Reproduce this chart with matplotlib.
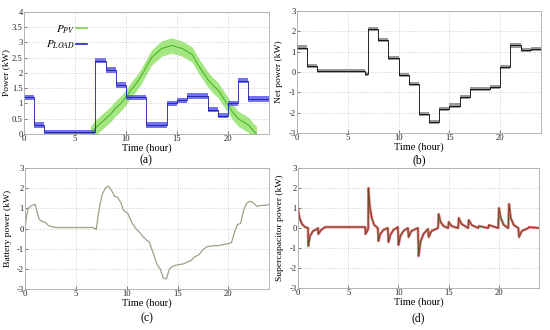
import numpy as np
import matplotlib
matplotlib.use("Agg")
import matplotlib.pyplot as plt

plt.rcParams['font.family'] = ['Liberation Serif', 'DejaVu Serif']
plt.rcParams['mathtext.fontset'] = 'stix'

# ---- data (hours, kW) ----
load_edges = [0, 1, 2, 7, 8, 9, 10, 12, 14, 15, 16, 18, 19, 20, 21, 22, 24]
load_levels = [1.2, 0.3, 0.05, 2.4, 2.1, 1.6, 1.2, 0.3, 1.0, 1.1, 1.25, 0.8, 0.6, 1.0, 1.75, 1.15]

pv_t = [6.5, 7, 7.5, 8, 8.5, 9, 9.5, 10, 10.5, 11, 11.5, 12, 12.5, 13, 13.5, 14, 14.5,
        15, 15.5, 16, 16.5, 17, 17.5, 18, 18.5, 19, 19.5, 20, 20.5, 21, 21.5, 22, 22.5, 22.8]
pv_p = [0.0, 0.2, 0.35, 0.5, 0.65, 0.85, 1.0, 1.2, 1.45, 1.65, 1.9, 2.2, 2.5, 2.65, 2.8, 2.85, 2.9,
        2.85, 2.8, 2.7, 2.6, 2.3, 2.05, 1.8, 1.6, 1.45, 1.2, 0.95, 0.7, 0.5, 0.4, 0.3, 0.1, 0.0]

net_edges = [0, 1, 2, 6.7, 7, 8, 9, 10, 11, 12, 13, 14, 15, 16, 17, 18, 19, 20, 21, 22, 23, 24]
net_levels = [1.2, 0.3, 0.05, -0.1, 2.1, 1.55, 0.7, -0.15, -0.6, -2.05, -2.45, -1.8, -1.65,
              -1.25, -0.85, -0.85, -0.75, 0.25, 1.3, 1.1, 1.15]

bat_t = [0, 0.15, 0.3, 0.7, 1.0, 1.2, 1.4, 1.7, 2.0, 2.3, 2.7, 3.0, 6.7, 7.0, 7.3, 7.6, 7.9,
         8.2, 8.5, 8.8, 9.1, 9.4, 9.7, 10.1, 10.5, 10.9, 11.2, 11.6, 12.0, 12.2, 12.6, 13.0,
         13.3, 13.6, 13.9, 14.2, 14.6, 15.0, 15.6, 16.0, 16.3, 16.7, 17.1, 17.5, 17.9, 18.5,
         19.0, 19.5, 20.0, 20.3, 20.6, 20.9, 21.2, 21.5, 21.8, 22.1, 22.4, 22.8, 23.3, 23.7, 24]
bat_p = [0.0, 0.6, 1.0, 1.15, 1.2, 0.8, 0.45, 0.35, 0.3, 0.15, 0.08, 0.05, 0.05, -0.05, 1.0,
         1.7, 2.0, 2.1, 1.9, 1.6, 1.55, 1.3, 0.9, 0.75, 0.3, 0.0, -0.15, -0.4, -0.6, -0.65,
         -1.2, -1.8, -2.0, -2.45, -2.5, -2.0, -1.85, -1.8, -1.75, -1.65, -1.6, -1.4, -1.3,
         -1.05, -0.9, -0.85, -0.85, -0.8, -0.75, -0.7, -0.2, 0.2, 0.25, 0.9, 1.25, 1.35, 1.3,
         1.1, 1.15, 1.15, 1.2]

sc_t = [0, 0.15, 0.4, 0.7, 1.0, 1.02, 1.2, 1.5, 1.9, 2.0, 2.02, 2.3, 2.7, 6.7, 6.72, 6.95,
        7.0, 7.02, 7.15, 7.35, 7.6, 7.95, 8.02, 8.2, 8.5, 8.95, 9.02, 9.2, 9.5, 9.95, 10.02,
        10.2, 10.5, 10.95, 11.02, 11.3, 11.95, 12.02, 12.2, 12.5, 12.95, 13.02, 13.3, 13.95,
        14.02, 14.2, 14.5, 14.95, 15.02, 15.3, 15.95, 16.02, 16.3, 16.95, 17.02, 17.3, 17.95,
        18.02, 18.95, 19.02, 19.95, 20.02, 20.2, 20.5, 20.95, 21.02, 21.2, 21.5, 21.95, 22.02,
        22.3, 22.95, 23.02, 24]
sc_p = [1.0, 0.5, 0.2, 0.05, 0.0, -0.9, -0.4, -0.15, -0.05, 0.0, -0.3, -0.1, 0.05, 0.05,
        -0.3, -0.1, 0.0, 2.0, 1.1, 0.5, 0.15, 0.0, -0.65, -0.3, -0.1, 0.0, -0.7, -0.35, -0.1,
        0.05, -0.85, -0.4, -0.15, 0.0, -0.45, -0.15, 0.0, -1.4, -0.7, -0.3, -0.05, -0.45,
        -0.15, 0.0, 0.7, 0.3, 0.1, 0.0, 0.3, 0.1, 0.0, 0.5, 0.2, 0.0, 0.4, 0.15, 0.0, 0.1,
        0.0, 0.15, 0.0, 1.0, 0.5, 0.15, 0.0, 1.2, 0.5, 0.15, 0.0, -0.45, -0.15, 0.0, 0.05, 0.0]

hours = [0, 5, 10, 15, 20]
kw_ticks = [-3, -2, -1, 0, 1, 2, 3]


def style(ax, ylim, yticks, ylabel, labx):
    ax.set_xlim(0, 24)
    ax.set_ylim(*ylim)
    ax.set_xticks(hours)
    ax.set_yticks(yticks)
    ax.set_yticklabels(['%g' % v for v in yticks])
    ax.tick_params(direction='in', length=2, width=0.4, labelsize=6.2, pad=0.8,
                   colors='#222222')
    ax.grid(True, linestyle=':', linewidth=0.5, color='#bbbbbb')
    for s in ax.spines.values():
        s.set_color('#aaaaaa')
        s.set_linewidth(0.6)
    ax.set_xlabel('Time (hour)', fontsize=7.5, labelpad=0)
    ax.set_ylabel(ylabel, fontsize=6.8)
    ax.yaxis.set_label_coords(labx, 0.5)


fig = plt.figure(figsize=(5.5, 3.3), dpi=100)

# (a) PV and load
ax = fig.add_axes([0.0436, 0.594, 0.445, 0.37])
ld = np.array(load_levels + [load_levels[-1]])
pv = np.array(pv_p)
ax.fill_between(pv_t, pv - 0.25, pv + 0.25, color='#8de060', alpha=0.8, lw=0)
ax.plot(pv_t, pv, color='#40b020', lw=0.7)
ax.fill_between(load_edges, np.clip(ld - 0.09, 0, None), ld + 0.09, step='post',
                color='#5050ee', alpha=0.8, lw=0)
ax.step(load_edges, ld, where='post', color='#1a1aa0', lw=0.6)
ax.plot([], [], color='#7bd050', lw=1.2, label='$P_{PV}$')
ax.plot([], [], color='#2020c0', lw=1.2, label='$P_{LOAD}$')
ax.legend(loc='upper left', bbox_to_anchor=(0.05, 0.99), frameon=False, fontsize=8,
          markerfirst=False, handlelength=1.0, handletextpad=0.1, labelspacing=0.3)
style(ax, (0, 4), [0, 0.5, 1, 1.5, 2, 2.5, 3, 3.5, 4], 'Power (kW)', -0.058)

# (b) net power
ax = fig.add_axes([0.54, 0.597, 0.4436, 0.37])
nt = np.array(net_levels + [net_levels[-1]])
ax.fill_between(net_edges, nt - 0.1, nt + 0.1, step='post', color='#555555', alpha=0.6, lw=0)
ax.step(net_edges, nt, where='post', color='black', lw=0.6)
style(ax, (-3, 3), kw_ticks, 'Net power (kW)', -0.058)

# (c) battery power
ax = fig.add_axes([0.0455, 0.124, 0.4436, 0.367])
ax.plot(bat_t, bat_p, color='#a0a088', lw=0.9)
style(ax, (-3, 3), kw_ticks, 'Battery power (kW)', -0.052)

# (d) supercapacitor power
ax = fig.add_axes([0.5418, 0.127, 0.438, 0.364])
ax.plot(sc_t, sc_p, color='#e04040', lw=1.8, alpha=0.8)
ax.plot(sc_t, sc_p, color='#5a4a2a', lw=0.6)
style(ax, (-3, 3), kw_ticks, 'Supercapacitor power (kW)', -0.058)

fig.text(0.266, 0.515, '(a)', ha='center', va='center', fontsize=8.5)
fig.text(0.762, 0.515, '(b)', ha='center', va='center', fontsize=8.5)
fig.text(0.267, 0.036, '(c)', ha='center', va='center', fontsize=8.5)
fig.text(0.761, 0.036, '(d)', ha='center', va='center', fontsize=8.5)

fig.savefig('out.png', dpi=100)
